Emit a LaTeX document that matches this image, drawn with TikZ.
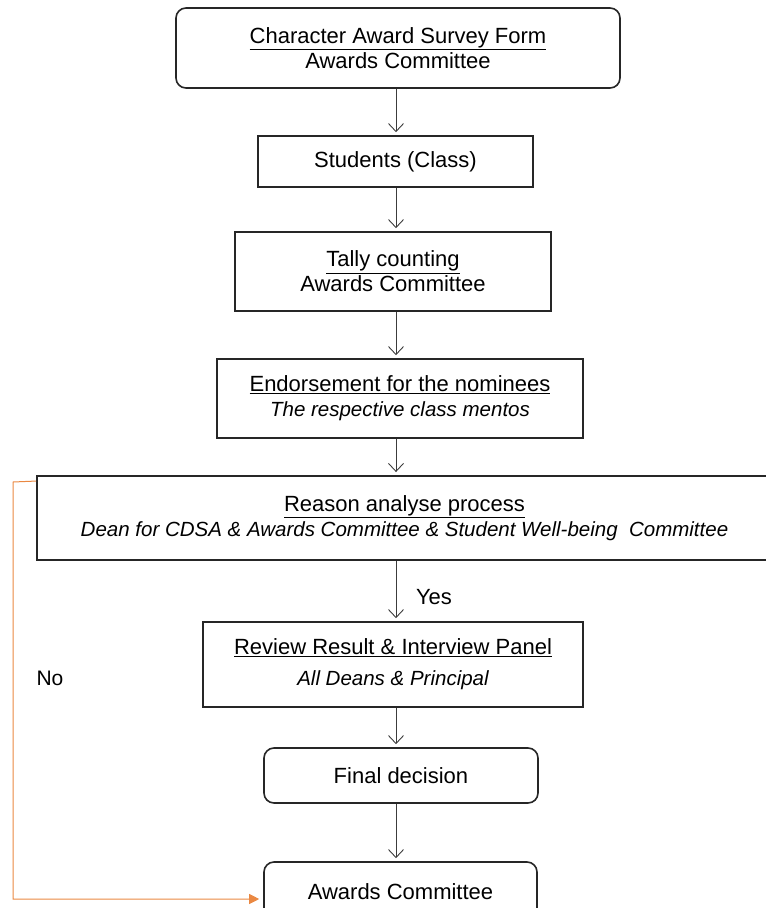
\documentclass[tikz,border=0pt]{standalone}
\usepackage{fontspec}
\setmainfont{Liberation Sans}
\usetikzlibrary{arrows.meta}
\definecolor{noorange}{RGB}{234,136,66}
\definecolor{arrgray}{RGB}{60,60,60}
\begin{document}
\begin{tikzpicture}[x=1pt,y=-1pt,
  box/.style={draw=black!85, line width=1.6pt, align=center, inner sep=0pt,
    font=\fontsize{22}{25}\selectfont},
  rbox/.style={box, rounded corners=10pt},
  arr/.style={draw=arrgray, line width=0.9pt,
    -{Straight Barb[length=8pt,width=15pt]}, shorten >=3pt},
  noarr/.style={draw=noorange, line width=1pt,
    -{Triangle[length=10pt,width=10pt]}, shorten >=4pt},
  lbl/.style={inner sep=0pt, font=\fontsize{22}{25}\selectfont}
]
\useasboundingbox (0,0) rectangle (766,908);
\clip (0,0) rectangle (766,908);
\newcommand{\itl}[1]{{\fontsize{20.5}{25}\selectfont\itshape #1}}

\node[rbox, minimum width=444pt, minimum height=80pt] (b1) at (398,48)
  {\underline{Character Award Survey Form}\\Awards Committee};
\node[box, minimum width=275pt, minimum height=51pt] (b2) at (395.5,161.5)
  {Students (Class)};
\node[box, minimum width=316pt, minimum height=79pt] (b3) at (393,271.5)
  {\underline{Tally counting}\\Awards Committee};
\node[box, minimum width=366pt, minimum height=79pt] (b4) at (400,398.5)
  {\underline{Endorsement for the nominees}\\\itl{The respective class mentos}};
\node[box, line width=1.9pt, minimum width=735pt, minimum height=84pt] (b5) at (404.5,518)
  {\underline{Reason analyse process}\\\itl{Dean for CDSA \& Awards Committee \& Student Well-being\ \ Committee}};
\node[box, minimum width=380pt, minimum height=85pt] (b6) at (393,664.5)
  {\underline{Review Result \& Interview Panel}\\[6pt]\itl{All Deans \& Principal}};
\node[rbox, minimum width=274pt, minimum height=55pt] (b7) at (401,775.5)
  {Final decision};
\node[rbox, minimum width=273pt, minimum height=60pt] (b8) at (400.5,892)
  {Awards Committee};

\coordinate (ax) at (396,0);
\draw[arr] (b1.south -| ax) -- (b2.north -| ax);
\draw[arr] (b2.south -| ax) -- (b3.north -| ax);
\draw[arr] (b3.south -| ax) -- (b4.north -| ax);
\draw[arr] (b4.south -| ax) -- (b5.north -| ax);
\draw[arr] (b5.south -| ax) -- (b6.north -| ax);
\draw[arr] (b6.south -| ax) -- (b7.north -| ax);
\draw[arr] (b7.south -| ax) -- (b8.north -| ax);

\node[lbl] (yes) at (434,597) {Yes};
\node[lbl, font=\fontsize{21}{25}\selectfont] (no) at (50,678) {No};

\draw[noarr] ([yshift=-6pt]b5.north west) -- (13,482) -- (13,899)
  -- ([yshift=-7pt]b8.west);
\end{tikzpicture}
\end{document}
